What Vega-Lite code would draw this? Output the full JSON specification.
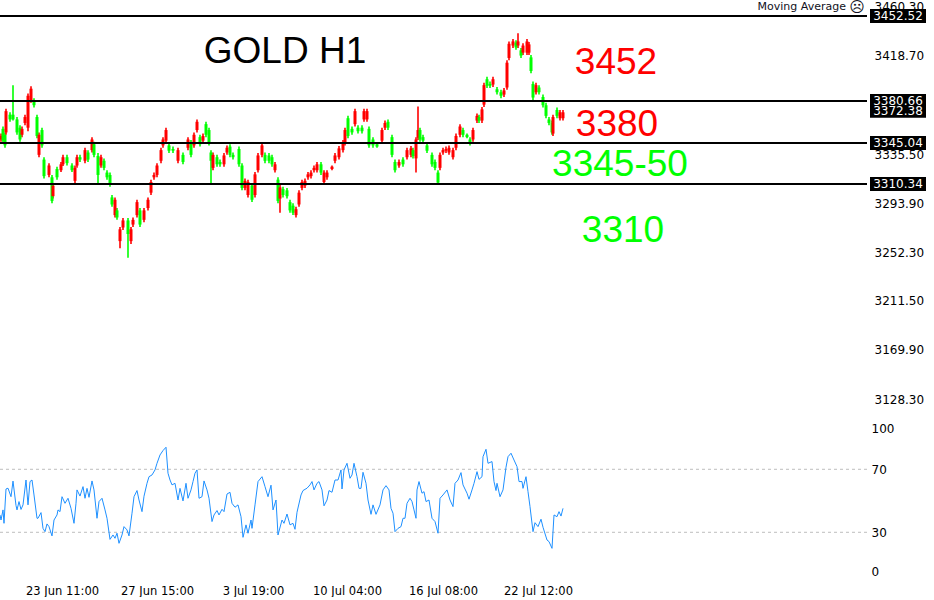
{"$schema":"https://vega.github.io/schema/vega-lite/v6.json","padding":0,"spacing":0,"background":"white","config":{"view":{"stroke":null},"concat":{"spacing":0},"axis":{"labelFont":"DejaVu Sans","labelFontSize":12,"labelColor":"#000000","domain":false,"ticks":false,"grid":false,"title":null}},
"datasets":{
"candles":[
{"b":1,"o":3348,"h":3353,"l":3346,"c":3351},{"b":3,"o":3357,"h":3359,"l":3345,"c":3347},{"b":5,"o":3352,"h":3354,"l":3341,"c":3343},{"b":6,"o":3354,"h":3374,"l":3352,"c":3372},{"b":10,"o":3369,"h":3371,"l":3363,"c":3365},{"b":13,"o":3369,"h":3394,"l":3364,"c":3365},{"b":17,"o":3365,"h":3367,"l":3352,"c":3354},{"b":20,"o":3358,"h":3360,"l":3346,"c":3348},{"b":22,"o":3352,"h":3359,"l":3350,"c":3357},{"b":25,"o":3362,"h":3369,"l":3360,"c":3367},{"b":28,"o":3358,"h":3387,"l":3355,"c":3385},{"b":31,"o":3381,"h":3393,"l":3379,"c":3391},{"b":34,"o":3381,"h":3383,"l":3375,"c":3377},{"b":37,"o":3367,"h":3369,"l":3349,"c":3351},{"b":39,"o":3335,"h":3354,"l":3333,"c":3352},{"b":42,"o":3356,"h":3358,"l":3341,"c":3343},{"b":44,"o":3331,"h":3333,"l":3315,"c":3317},{"b":49,"o":3318,"h":3328,"l":3316,"c":3326},{"b":52,"o":3316,"h":3318,"l":3294,"c":3296},{"b":53,"o":3300,"h":3311,"l":3298,"c":3309},{"b":57,"o":3323,"h":3325,"l":3314,"c":3316},{"b":61,"o":3322,"h":3329,"l":3320.5,"c":3327},{"b":63,"o":3327,"h":3335,"l":3325.5,"c":3333},{"b":67,"o":3333,"h":3335,"l":3326,"c":3328},{"b":72,"o":3326,"h":3328,"l":3320.5,"c":3322},{"b":75,"o":3313,"h":3326,"l":3311,"c":3324},{"b":77,"o":3326,"h":3335,"l":3324,"c":3333},{"b":80,"o":3333,"h":3335,"l":3329,"c":3331},{"b":85,"o":3330,"h":3341,"l":3328,"c":3339},{"b":88,"o":3337,"h":3339,"l":3329,"c":3331},{"b":92,"o":3339,"h":3350,"l":3337,"c":3348},{"b":94,"o":3344,"h":3346,"l":3333,"c":3335},{"b":98,"o":3334,"h":3336.5,"l":3309.5,"c":3318},{"b":101,"o":3326,"h":3335,"l":3324,"c":3333},{"b":104,"o":3330,"h":3332,"l":3322,"c":3324},{"b":107,"o":3320,"h":3322,"l":3314,"c":3316},{"b":110,"o":3318,"h":3320,"l":3308,"c":3310},{"b":112,"o":3299,"h":3301,"l":3291,"c":3293},{"b":115,"o":3284,"h":3299,"l":3282,"c":3297},{"b":117,"o":3288,"h":3290,"l":3280,"c":3282},{"b":120,"o":3262,"h":3274,"l":3256,"c":3272},{"b":123,"o":3273.5,"h":3281.5,"l":3271.5,"c":3279.5},{"b":128,"o":3279.5,"h":3281.5,"l":3248,"c":3268},{"b":131,"o":3262,"h":3274,"l":3259.5,"c":3272},{"b":133,"o":3276,"h":3282,"l":3274,"c":3280},{"b":137,"o":3284,"h":3297,"l":3282,"c":3295},{"b":140,"o":3288,"h":3290,"l":3274,"c":3276},{"b":144,"o":3280,"h":3290,"l":3278,"c":3288},{"b":148,"o":3290,"h":3299,"l":3288,"c":3297},{"b":151,"o":3303,"h":3314,"l":3301,"c":3312},{"b":154,"o":3316,"h":3320,"l":3314,"c":3318},{"b":157,"o":3318,"h":3328,"l":3316,"c":3326},{"b":161,"o":3330,"h":3341,"l":3328,"c":3339},{"b":163,"o":3343,"h":3350,"l":3341,"c":3348},{"b":166,"o":3347,"h":3358,"l":3345,"c":3356},{"b":169,"o":3343,"h":3345,"l":3336.5,"c":3338.5},{"b":173,"o":3340,"h":3342,"l":3336.5,"c":3338.5},{"b":178,"o":3330,"h":3341,"l":3328,"c":3339},{"b":183,"o":3335,"h":3337,"l":3327,"c":3329},{"b":188,"o":3341,"h":3350,"l":3339,"c":3348},{"b":191,"o":3345.5,"h":3347.5,"l":3333,"c":3335},{"b":194,"o":3343,"h":3354,"l":3341,"c":3352},{"b":197,"o":3356,"h":3365,"l":3354,"c":3363},{"b":200,"o":3350,"h":3352,"l":3342,"c":3344},{"b":203,"o":3347,"h":3353,"l":3345,"c":3351},{"b":206,"o":3361,"h":3363,"l":3350,"c":3352},{"b":209,"o":3356,"h":3358,"l":3343,"c":3345},{"b":211,"o":3337,"h":3339,"l":3311,"c":3330},{"b":213,"o":3324,"h":3337,"l":3322,"c":3335},{"b":217,"o":3333,"h":3335,"l":3325,"c":3327},{"b":220,"o":3329,"h":3331,"l":3325,"c":3327},{"b":224,"o":3327,"h":3336.5,"l":3325,"c":3334.5},{"b":227,"o":3337,"h":3343,"l":3335,"c":3341},{"b":230,"o":3342,"h":3344,"l":3333,"c":3335},{"b":233,"o":3335,"h":3337,"l":3331,"c":3333},{"b":239,"o":3340,"h":3342,"l":3325,"c":3327},{"b":242,"o":3326,"h":3328,"l":3305,"c":3307},{"b":245,"o":3307,"h":3315,"l":3305,"c":3313},{"b":248,"o":3301,"h":3314,"l":3299,"c":3312},{"b":252,"o":3309,"h":3311,"l":3295,"c":3297},{"b":255,"o":3301,"h":3320.5,"l":3299,"c":3318.5},{"b":258,"o":3322,"h":3336.5,"l":3320,"c":3334.5},{"b":262,"o":3335,"h":3345,"l":3333,"c":3343},{"b":265,"o":3335,"h":3337,"l":3328,"c":3330},{"b":269,"o":3334.5,"h":3336.5,"l":3328,"c":3330},{"b":272,"o":3333,"h":3335,"l":3325,"c":3327},{"b":275,"o":3322,"h":3329,"l":3320,"c":3327},{"b":278,"o":3314,"h":3316,"l":3294,"c":3296},{"b":280,"o":3298,"h":3309.5,"l":3286,"c":3307.5},{"b":283,"o":3306,"h":3308,"l":3299,"c":3301},{"b":287,"o":3305,"h":3307,"l":3298,"c":3300},{"b":290,"o":3295,"h":3297,"l":3286,"c":3288},{"b":293,"o":3292,"h":3294,"l":3284,"c":3286},{"b":296,"o":3284,"h":3291,"l":3282,"c":3289},{"b":299,"o":3293,"h":3305,"l":3291,"c":3303},{"b":302,"o":3307,"h":3314,"l":3305,"c":3312},{"b":305,"o":3309,"h":3315,"l":3307,"c":3313},{"b":308,"o":3316,"h":3320.5,"l":3314,"c":3318.5},{"b":311,"o":3317,"h":3322,"l":3315,"c":3320},{"b":314,"o":3322,"h":3326,"l":3320,"c":3324},{"b":317,"o":3322,"h":3329,"l":3320,"c":3327},{"b":321,"o":3327,"h":3329,"l":3318,"c":3320},{"b":324,"o":3312,"h":3322,"l":3309.5,"c":3320},{"b":327,"o":3316,"h":3322,"l":3314,"c":3320},{"b":332,"o":3323,"h":3326,"l":3322,"c":3325},{"b":335,"o":3330,"h":3336.5,"l":3328,"c":3334.5},{"b":339,"o":3333,"h":3342.5,"l":3331,"c":3340.5},{"b":343,"o":3339,"h":3347.5,"l":3337,"c":3345.5},{"b":345,"o":3345,"h":3358,"l":3343,"c":3356},{"b":348,"o":3366,"h":3368,"l":3349,"c":3351},{"b":352,"o":3357,"h":3359,"l":3352,"c":3354},{"b":355,"o":3361,"h":3374,"l":3359,"c":3372},{"b":358,"o":3358,"h":3360,"l":3353,"c":3355},{"b":362,"o":3358,"h":3360,"l":3353,"c":3355},{"b":364,"o":3365,"h":3374,"l":3363,"c":3372},{"b":367,"o":3365,"h":3374,"l":3363,"c":3372},{"b":369,"o":3357,"h":3359,"l":3341,"c":3343},{"b":373,"o":3348,"h":3350,"l":3341,"c":3343},{"b":377,"o":3344,"h":3345,"l":3341,"c":3342},{"b":382,"o":3347,"h":3358,"l":3345,"c":3356},{"b":385,"o":3358,"h":3364,"l":3356,"c":3362},{"b":388,"o":3363,"h":3365,"l":3356,"c":3358},{"b":392,"o":3350,"h":3352,"l":3333,"c":3335},{"b":395,"o":3329,"h":3331,"l":3320,"c":3322},{"b":399,"o":3326,"h":3331,"l":3324,"c":3329},{"b":403,"o":3331,"h":3333,"l":3325,"c":3327},{"b":407,"o":3333,"h":3341,"l":3331,"c":3339},{"b":411,"o":3335,"h":3342.5,"l":3333,"c":3340.5},{"b":413,"o":3339,"h":3341,"l":3332,"c":3334},{"b":416,"o":3332,"h":3350,"l":3320,"c":3348},{"b":418,"o":3349.5,"h":3376,"l":3347.5,"c":3356},{"b":420,"o":3356,"h":3358,"l":3346,"c":3348},{"b":423,"o":3350,"h":3352,"l":3345,"c":3347},{"b":427,"o":3343,"h":3345,"l":3336.5,"c":3338.5},{"b":432,"o":3335,"h":3337,"l":3325,"c":3327},{"b":435,"o":3329,"h":3331,"l":3322,"c":3324},{"b":438,"o":3320,"h":3322,"l":3309.5,"c":3311.5},{"b":440,"o":3324,"h":3337,"l":3322,"c":3335},{"b":443,"o":3337,"h":3341,"l":3335,"c":3339},{"b":446,"o":3338.5,"h":3342,"l":3336.5,"c":3340},{"b":449,"o":3337,"h":3343,"l":3335,"c":3341},{"b":453,"o":3333,"h":3341,"l":3331,"c":3339},{"b":456,"o":3341,"h":3353,"l":3339,"c":3351},{"b":460,"o":3352,"h":3361,"l":3350,"c":3359},{"b":463,"o":3356,"h":3358,"l":3350,"c":3352},{"b":467,"o":3352,"h":3353,"l":3349,"c":3350},{"b":470,"o":3348,"h":3350,"l":3343,"c":3345},{"b":473,"o":3348,"h":3358,"l":3346,"c":3356},{"b":477,"o":3364,"h":3370,"l":3362,"c":3368},{"b":479,"o":3367,"h":3369,"l":3362,"c":3364},{"b":482,"o":3364,"h":3375.5,"l":3362,"c":3373.5},{"b":484,"o":3377.5,"h":3396,"l":3375.5,"c":3394},{"b":487,"o":3399,"h":3401,"l":3391.5,"c":3393.5},{"b":490,"o":3395,"h":3397,"l":3391.5,"c":3393.5},{"b":493,"o":3394.5,"h":3401,"l":3392.5,"c":3399},{"b":497,"o":3390.5,"h":3392.5,"l":3386,"c":3388},{"b":501,"o":3388,"h":3390,"l":3383,"c":3385},{"b":504,"o":3386,"h":3391.5,"l":3384,"c":3389.5},{"b":507,"o":3392,"h":3415,"l":3390,"c":3413},{"b":509,"o":3417,"h":3431,"l":3415,"c":3429},{"b":513,"o":3427.5,"h":3433,"l":3425.5,"c":3431},{"b":516,"o":3430,"h":3432,"l":3424,"c":3426},{"b":518,"o":3427.5,"h":3438,"l":3425.5,"c":3431},{"b":521,"o":3423.5,"h":3425.5,"l":3417,"c":3419},{"b":523,"o":3421.5,"h":3429.5,"l":3419.5,"c":3427.5},{"b":527,"o":3421.5,"h":3433,"l":3419.5,"c":3431},{"b":529,"o":3421.5,"h":3430.5,"l":3419.5,"c":3428.5},{"b":531,"o":3417.5,"h":3419.5,"l":3404,"c":3406},{"b":533,"o":3395,"h":3397,"l":3381.5,"c":3383.5},{"b":536,"o":3388,"h":3396,"l":3386,"c":3394},{"b":539,"o":3392,"h":3394,"l":3386,"c":3388},{"b":543,"o":3384,"h":3386,"l":3375,"c":3377},{"b":546,"o":3377,"h":3379,"l":3366,"c":3368},{"b":549,"o":3365,"h":3367,"l":3360,"c":3362},{"b":552,"o":3362,"h":3364,"l":3352,"c":3354},{"b":553,"o":3353,"h":3369,"l":3351,"c":3367},{"b":557,"o":3373,"h":3375,"l":3366,"c":3368},{"b":560,"o":3366,"h":3373,"l":3364,"c":3371},{"b":563,"o":3366,"h":3373,"l":3364,"c":3371}
],
"levels":[{"p":3452.52},{"p":3380.66},{"p":3345.04},{"p":3310.34}],
"tags":[{"p":3372.38},{"p":3345.04},{"p":3310.34},{"p":3380.66},{"p":3452.52}],
"notes":[{"t":"GOLD H1","b":285,"p":3422.3,"k":"a"},{"t":"3452","b":616,"p":3412.4,"k":"b"},{"t":"3380","b":617,"p":3359.9,"k":"b"},{"t":"3345-50","b":620,"p":3326,"k":"c"},{"t":"3310","b":623,"p":3270.2,"k":"c"}],
"rsi":[
{"b":0,"r":41},{"b":1,"r":37.8},{"b":3,"r":44.2},{"b":4,"r":35.7},{"b":6,"r":57.5},{"b":8,"r":58},{"b":11,"r":52.6},{"b":13,"r":62.5},{"b":16,"r":47},{"b":17,"r":44.2},{"b":19,"r":49.5},{"b":21,"r":44.5},{"b":23,"r":47.4},{"b":26,"r":63.2},{"b":28,"r":47.4},{"b":30,"r":62.2},{"b":32,"r":63.2},{"b":34,"r":53.7},{"b":37,"r":38.9},{"b":38,"r":38.9},{"b":41,"r":42.5},{"b":43,"r":32.5},{"b":45,"r":30.4},{"b":47,"r":35.3},{"b":49,"r":33.6},{"b":52,"r":27.7},{"b":54,"r":37.8},{"b":57,"r":41},{"b":58,"r":44.2},{"b":60,"r":43.1},{"b":62,"r":52.6},{"b":65,"r":48.4},{"b":68,"r":51.6},{"b":71,"r":45.2},{"b":74,"r":35.7},{"b":76,"r":48.4},{"b":77,"r":56.9},{"b":80,"r":53},{"b":83,"r":59},{"b":85,"r":51.6},{"b":87,"r":57.9},{"b":89,"r":52.2},{"b":92,"r":62.6},{"b":94,"r":56.9},{"b":97,"r":38.9},{"b":99,"r":49.5},{"b":102,"r":51.6},{"b":105,"r":44.2},{"b":107,"r":38.9},{"b":110,"r":25.5},{"b":113,"r":28.3},{"b":115,"r":26.2},{"b":117,"r":29.4},{"b":119,"r":23},{"b":122,"r":28.3},{"b":124,"r":33.6},{"b":127,"r":31.5},{"b":129,"r":27.7},{"b":132,"r":42.1},{"b":134,"r":52.6},{"b":137,"r":56.5},{"b":139,"r":50.5},{"b":142,"r":43.1},{"b":144,"r":52.9},{"b":147,"r":61.1},{"b":149,"r":65.3},{"b":152,"r":66.4},{"b":155,"r":69.6},{"b":157,"r":73.8},{"b":160,"r":79.1},{"b":163,"r":81.9},{"b":166,"r":84},{"b":168,"r":67.5},{"b":170,"r":63.2},{"b":172,"r":60.1},{"b":175,"r":61.1},{"b":178,"r":50.5},{"b":180,"r":57.9},{"b":183,"r":49.9},{"b":186,"r":61.1},{"b":188,"r":51.6},{"b":191,"r":56.9},{"b":193,"r":62.2},{"b":195,"r":67.5},{"b":197,"r":69.6},{"b":199,"r":51.6},{"b":202,"r":52.6},{"b":204,"r":62.6},{"b":207,"r":56.9},{"b":209,"r":51.6},{"b":212,"r":36.8},{"b":214,"r":41},{"b":217,"r":43.8},{"b":219,"r":41},{"b":222,"r":44.6},{"b":224,"r":43.1},{"b":227,"r":54.3},{"b":230,"r":55.4},{"b":232,"r":48.4},{"b":235,"r":45.9},{"b":238,"r":47.4},{"b":241,"r":39.9},{"b":243,"r":26.8},{"b":246,"r":34.7},{"b":248,"r":29.4},{"b":251,"r":37.8},{"b":252,"r":32.5},{"b":255,"r":47.4},{"b":258,"r":62.2},{"b":262,"r":65.3},{"b":265,"r":59},{"b":268,"r":52.6},{"b":271,"r":59.9},{"b":273,"r":44.2},{"b":276,"r":50.5},{"b":278,"r":28.3},{"b":282,"r":37.8},{"b":284,"r":35.7},{"b":287,"r":41.6},{"b":290,"r":34.7},{"b":293,"r":35.7},{"b":295,"r":31.9},{"b":297,"r":42.7},{"b":301,"r":53.7},{"b":303,"r":56.5},{"b":307,"r":58},{"b":310,"r":60.1},{"b":312,"r":62.2},{"b":314,"r":56.9},{"b":317,"r":61.1},{"b":319,"r":62.2},{"b":322,"r":56.9},{"b":324,"r":46.8},{"b":327,"r":50.5},{"b":329,"r":56.5},{"b":332,"r":55.4},{"b":335,"r":63.2},{"b":338,"r":63.2},{"b":341,"r":69.6},{"b":342,"r":57.5},{"b":344,"r":69.6},{"b":347,"r":73.8},{"b":350,"r":64.3},{"b":352,"r":66.4},{"b":354,"r":73.8},{"b":357,"r":65.3},{"b":359,"r":57.9},{"b":361,"r":57.9},{"b":363,"r":68.1},{"b":366,"r":61.1},{"b":368,"r":50.5},{"b":371,"r":41.4},{"b":373,"r":47.4},{"b":376,"r":41.4},{"b":380,"r":47.4},{"b":383,"r":56.9},{"b":386,"r":59.6},{"b":389,"r":56.9},{"b":391,"r":45.2},{"b":393,"r":42.1},{"b":395,"r":30.4},{"b":398,"r":32.5},{"b":401,"r":33.6},{"b":403,"r":38.9},{"b":405,"r":38.9},{"b":407,"r":48.4},{"b":410,"r":51.6},{"b":412,"r":49.5},{"b":414,"r":44.2},{"b":416,"r":38.9},{"b":417,"r":56.9},{"b":419,"r":62.2},{"b":422,"r":54.8},{"b":424,"r":55.8},{"b":426,"r":49.5},{"b":429,"r":50.5},{"b":432,"r":38.9},{"b":435,"r":36.8},{"b":438,"r":29.4},{"b":440,"r":51.6},{"b":443,"r":53.7},{"b":447,"r":56.9},{"b":450,"r":50.5},{"b":453,"r":46.3},{"b":455,"r":61.1},{"b":458,"r":63.2},{"b":461,"r":67.9},{"b":463,"r":60.1},{"b":467,"r":54.8},{"b":469,"r":51},{"b":472,"r":56.9},{"b":474,"r":61.1},{"b":477,"r":68.5},{"b":479,"r":63.6},{"b":482,"r":65.3},{"b":483,"r":78},{"b":486,"r":82.7},{"b":488,"r":73.8},{"b":492,"r":74.9},{"b":494,"r":62.2},{"b":496,"r":56.5},{"b":497,"r":61.1},{"b":500,"r":52.6},{"b":503,"r":56.9},{"b":506,"r":71.3},{"b":508,"r":78},{"b":511,"r":80.2},{"b":514,"r":75.9},{"b":517,"r":71.7},{"b":519,"r":62.2},{"b":522,"r":62.2},{"b":523,"r":57.9},{"b":526,"r":65.3},{"b":528,"r":55.8},{"b":530,"r":46.3},{"b":533,"r":30.4},{"b":535,"r":36.1},{"b":538,"r":33.6},{"b":541,"r":38.3},{"b":543,"r":33.2},{"b":547,"r":25.1},{"b":549,"r":24.1},{"b":552,"r":19.8},{"b":554,"r":41},{"b":557,"r":39.9},{"b":559,"r":43.1},{"b":561,"r":40.3},{"b":563,"r":45.2}
]},
"vconcat":[
{"width":934,"height":420,
"layer":[
{"data":{"name":"candles"},"mark":{"type":"rule","strokeWidth":1.6,"clip":true},"encoding":{"x":{"field":"b","type":"quantitative","scale":{"domain":[0,934],"nice":false,"zero":false,"padding":0},"axis":null},"y":{"field":"h","type":"quantitative","scale":{"domain":[3110.61,3466.06],"nice":false,"zero":false},"axis":{"orient":"right","offset":-60,"values":[3128.3,3169.9,3211.5,3252.3,3293.9,3335.5,3372.38,3418.7,3460.3],"format":".2f","labelAlign":"left","labelPadding":0,"labelOverlap":false,"labelBound":false}},"y2":{"field":"l"},"color":{"condition":{"test":"datum.c>datum.o","value":"#ff0000"},"value":"#00ff00"}}},
{"data":{"name":"candles"},"mark":{"type":"bar","size":3,"clip":true},"encoding":{"x":{"field":"b","type":"quantitative"},"y":{"field":"o","type":"quantitative"},"y2":{"field":"c"},"color":{"condition":{"test":"datum.c>datum.o","value":"#ff0000"},"value":"#00ff00"}}},
{"data":{"name":"levels"},"mark":{"type":"rule","color":"#000000","strokeWidth":2,"clip":true},"encoding":{"x":{"datum":0,"type":"quantitative"},"x2":{"datum":867},"y":{"field":"p","type":"quantitative"}}},
{"data":{"name":"tags"},"mark":{"type":"rule","color":"#000000","strokeWidth":14,"clip":true},"encoding":{"x":{"datum":870,"type":"quantitative"},"x2":{"datum":926},"y":{"field":"p","type":"quantitative"}}},
{"data":{"name":"tags"},"mark":{"type":"text","color":"#ffffff","font":"DejaVu Sans","fontSize":12,"align":"center","baseline":"middle"},"encoding":{"x":{"datum":898,"type":"quantitative"},"y":{"field":"p","type":"quantitative"},"text":{"field":"p","format":".2f"}}},
{"data":{"name":"notes"},"mark":{"type":"text","font":"Liberation Sans","fontSize":37,"align":"center","baseline":"middle"},"encoding":{"x":{"field":"b","type":"quantitative"},"y":{"field":"p","type":"quantitative"},"text":{"field":"t"},"color":{"field":"k","scale":{"domain":["a","b","c"],"range":["#000000","#ff0000","#00ff00"]},"legend":null}}},
{"data":{"values":[{"t":"Moving Average","b":846,"p":3460.3}]},"mark":{"type":"text","font":"DejaVu Sans","fontSize":11,"align":"right","baseline":"middle","color":"#111122"},"encoding":{"x":{"field":"b","type":"quantitative"},"y":{"field":"p","type":"quantitative"},"text":{"field":"t"}}},
{"data":{"values":[{"t":"☹","b":857,"p":3460.3}]},"mark":{"type":"text","font":"DejaVu Sans","fontSize":15,"align":"center","baseline":"middle","color":"#111122","clip":true},"encoding":{"x":{"field":"b","type":"quantitative"},"y":{"field":"p","type":"quantitative"},"text":{"field":"t"}}}
]},
{"width":934,"height":160,
"layer":[
{"data":{"values":[{"v":70},{"v":30}]},"mark":{"type":"rule","color":"#bdbdbd","strokeWidth":1,"strokeDash":[3,3],"clip":true},"encoding":{"x":{"datum":0,"type":"quantitative","scale":{"domain":[0,934],"nice":false,"zero":false,"padding":0},"axis":{"values":[62,157,253,347,443,538],"labelExpr":"datum.value==62?'23 Jun 11:00':datum.value==157?'27 Jun 15:00':datum.value==253?'3 Jul 19:00':datum.value==347?'10 Jul 04:00':datum.value==443?'16 Jul 08:00':'22 Jul 12:00'","labelAngle":0,"labelPadding":5,"labelOverlap":false,"labelFlush":false,"labelFontSize":11.5}},"x2":{"datum":867},"y":{"field":"v","type":"quantitative","scale":{"domain":[-0.3,101.3],"nice":false,"zero":false},"axis":{"orient":"right","offset":-63,"values":[95.6,70,30,4.8],"labelExpr":"datum.value>90?'100':datum.value<10?'0':format(datum.value,'d')","labelAlign":"left","labelPadding":0,"labelOverlap":false}}}},
{"data":{"name":"rsi"},"mark":{"type":"line","color":"#1e90ff","strokeWidth":1,"interpolate":"linear","clip":true},"encoding":{"x":{"field":"b","type":"quantitative"},"y":{"field":"r","type":"quantitative"}}}
]}
]}
